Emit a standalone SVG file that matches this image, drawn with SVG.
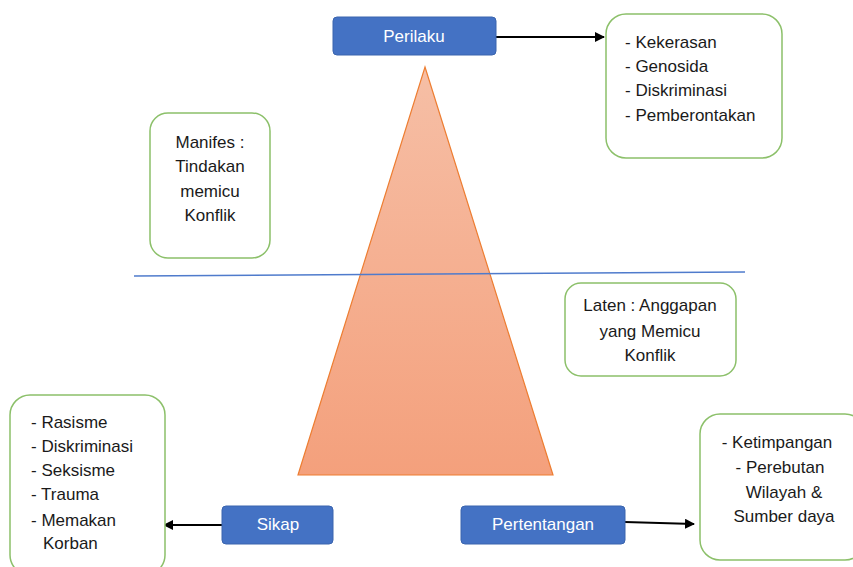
<svg xmlns="http://www.w3.org/2000/svg" width="853" height="567" viewBox="0 0 853 567">
<defs>
<linearGradient id="tri" x1="0" y1="0" x2="0" y2="1">
<stop offset="0" stop-color="#f6bfa6"/>
<stop offset="1" stop-color="#f4a07c"/>
</linearGradient>
<marker id="ah" viewBox="0 0 10 10" refX="9" refY="5" markerWidth="5" markerHeight="5" orient="auto">
<path d="M0,0 L10,5 L0,10 z" fill="#000"/>
</marker>
<style>
.blue{fill:#4472c4;stroke:#3a64ae;stroke-width:1}
.green{fill:#fff;stroke:#8cc06a;stroke-width:1.5}
.t{font-family:"Liberation Sans",Arial,sans-serif;font-size:17px;fill:#1a1a1a}
.w{font-family:"Liberation Sans",Arial,sans-serif;font-size:17px;fill:#fff}
.c{text-anchor:middle}
.conn{stroke:#000;stroke-width:2;fill:none;marker-end:url(#ah)}
</style>
</defs>
<rect width="853" height="567" fill="#fff"/>
<g id="triangle">
<polygon points="425,67 553,475 298,475" fill="url(#tri)" stroke="#ed7d31" stroke-width="1.2"/>
</g>
<g id="divider">
<line x1="134" y1="276" x2="745" y2="272" stroke="#4f7bcc" stroke-width="1.5"/>
</g>
<g id="connectors">
<line class="conn" x1="496" y1="37" x2="604" y2="37"/>
<line class="conn" x1="222" y1="525" x2="164" y2="525"/>
<line class="conn" x1="625" y1="522" x2="694" y2="524"/>
</g>
<g id="perilaku">
<rect class="blue" x="333" y="17" width="163" height="38" rx="4"/>
<text class="w c" x="414" y="42">Perilaku</text>
</g>
<g id="perilaku-list">
<rect class="green" x="606" y="14" width="176" height="144" rx="20"/>
<text class="t" x="625" y="48">- Kekerasan</text>
<text class="t" x="625" y="72">- Genosida</text>
<text class="t" x="625" y="96">- Diskriminasi</text>
<text class="t" x="625" y="121">- Pemberontakan</text>
</g>
<g id="manifes">
<rect class="green" x="150" y="113" width="120" height="145" rx="18"/>
<text class="t c" x="210" y="148">Manifes :</text>
<text class="t c" x="210" y="172">Tindakan</text>
<text class="t c" x="210" y="197">memicu</text>
<text class="t c" x="210" y="221">Konflik</text>
</g>
<g id="laten">
<rect class="green" x="565" y="283" width="171" height="93" rx="16"/>
<text class="t c" x="650" y="311">Laten : Anggapan</text>
<text class="t c" x="650" y="337">yang Memicu</text>
<text class="t c" x="650" y="361">Konflik</text>
</g>
<g id="sikap">
<rect class="blue" x="222" y="506" width="111" height="38" rx="4"/>
<text class="w c" x="278" y="530">Sikap</text>
</g>
<g id="sikap-list">
<rect class="green" x="10" y="395" width="155" height="180" rx="20"/>
<text class="t" x="31" y="428">- Rasisme</text>
<text class="t" x="31" y="452">- Diskriminasi</text>
<text class="t" x="31" y="476">- Seksisme</text>
<text class="t" x="31" y="500">- Trauma</text>
<text class="t" x="31" y="526">- Memakan</text>
<text class="t" x="43" y="549">Korban</text>
</g>
<g id="pertentangan">
<rect class="blue" x="461" y="506" width="164" height="38" rx="4"/>
<text class="w c" x="543" y="530">Pertentangan</text>
</g>
<g id="pertentangan-list">
<rect class="green" x="700" y="414" width="165" height="146" rx="20"/>
<text class="t c" x="777" y="448">- Ketimpangan</text>
<text class="t c" x="780" y="473">- Perebutan</text>
<text class="t c" x="784" y="498">Wilayah &amp;</text>
<text class="t c" x="784" y="522">Sumber daya</text>
</g>
</svg>
